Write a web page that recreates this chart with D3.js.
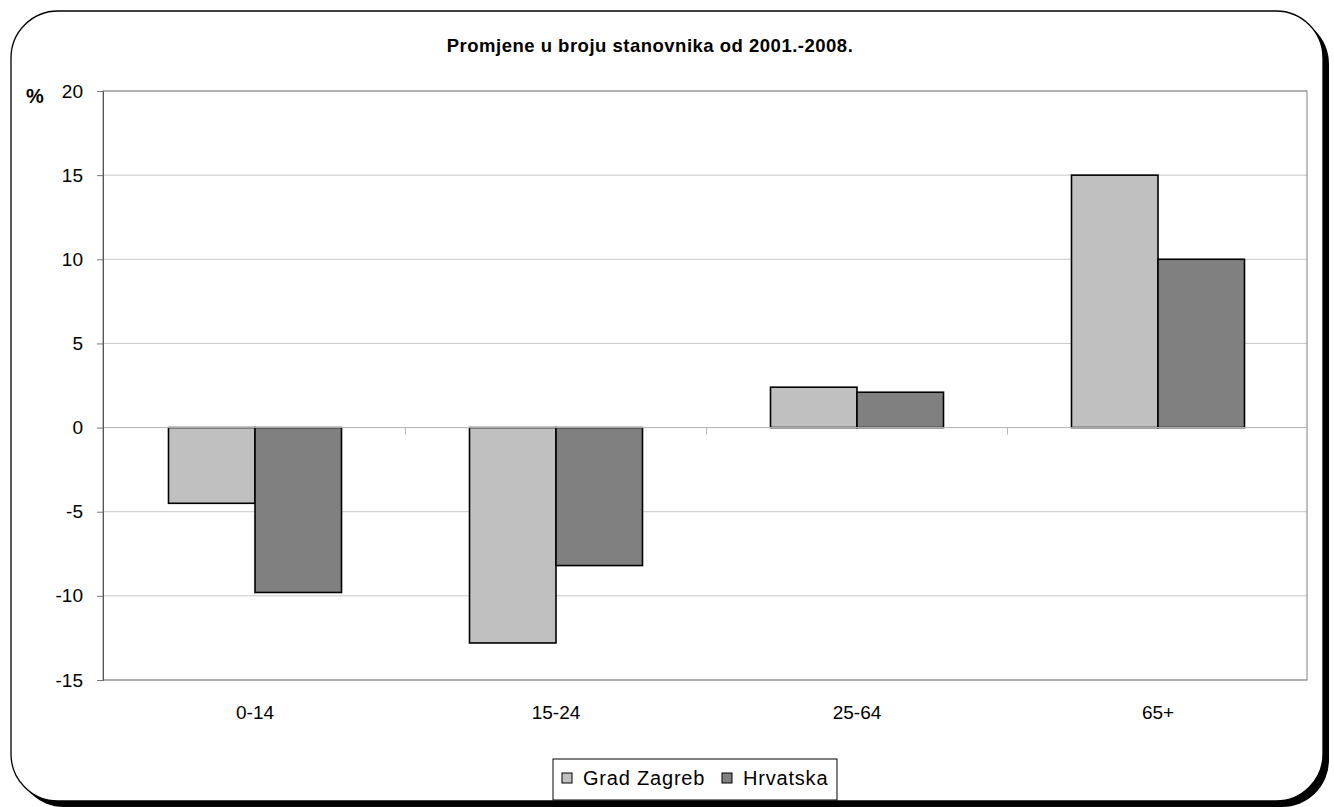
<!DOCTYPE html>
<html><head><meta charset="utf-8">
<script src="https://cdn.jsdelivr.net/npm/d3@7"></script>
<style>body{margin:0;background:#fff}svg{display:block}text{font-family:"Liberation Sans",Arial,sans-serif}</style>
</head><body>
<svg id="c" width="1334" height="807"></svg>
<script>
const categories = ["0-14", "15-24", "25-64", "65+"];
const seriesNames = ["Grad Zagreb", "Hrvatska"];
const zagreb = [-4.5, -12.8, 2.4, 15];
const hrvatska = [-9.8, -8.2, 2.1, 10];
const yTicks = [-15, -10, -5, 0, 5, 10, 15, 20];
const colors = ["#c0c0c0", "#808080"];

const svg = d3.select("#c");
// frame with shadow
svg.append("rect").attr("x", 17).attr("y", 17).attr("width", 1312).attr("height", 790)
  .attr("rx", 47).attr("ry", 47).attr("fill", "#000");
svg.append("rect").attr("x", 11).attr("y", 11).attr("width", 1312).attr("height", 790)
  .attr("rx", 47).attr("ry", 47).attr("fill", "#fff").attr("stroke", "#000").attr("stroke-width", 1.3);

const L = 103, R = 1307, T = 91, B = 680;
const y = d3.scaleLinear().domain([-15, 20]).range([B, T]);
const x0 = d3.scaleBand().domain(categories).range([L + 1.5, R + 1.5]).paddingInner(0).paddingOuter(0);
const x1 = d3.scaleBand().domain(seriesNames).range([64, x0.bandwidth() - 64]);

// gridlines
svg.append("g").selectAll("line").data(yTicks).join("line")
  .attr("x1", L).attr("x2", R).attr("y1", d => y(d)).attr("y2", d => y(d))
  .attr("stroke", "#c8c8c8").attr("stroke-width", 1);
// plot border
svg.append("rect").attr("x", L).attr("y", T).attr("width", R - L).attr("height", B - T)
  .attr("fill", "none").attr("stroke", "#808080").attr("stroke-width", 1);

// bars
const data = categories.map((c, i) => ({c, vals: [zagreb[i], hrvatska[i]]}));
const g = svg.append("g");
data.forEach(d => {
  d.vals.forEach((v, j) => {
    g.append("rect")
      .attr("x", x0(d.c) + x1(seriesNames[j]))
      .attr("width", x1.bandwidth())
      .attr("y", y(Math.max(0, v)))
      .attr("height", Math.abs(y(v) - y(0)))
      .attr("fill", colors[j]).attr("stroke", "#000").attr("stroke-width", 1.6);
  });
});

// zero axis
svg.append("line").attr("x1", L).attr("x2", R).attr("y1", y(0)).attr("y2", y(0))
  .attr("stroke", "#b8b8b8").attr("stroke-width", 1);
// category ticks
svg.append("g").selectAll("line").data(categories.slice(1)).join("line")
  .attr("x1", d => x0(d)).attr("x2", d => x0(d)).attr("y1", y(0)).attr("y2", y(0) + 7)
  .attr("stroke", "#b8b8b8");

// y axis
const yAxis = d3.axisLeft(y).tickValues(yTicks).tickSize(6).tickPadding(14).tickFormat(d => String(d));
const ya = svg.append("g").attr("transform", `translate(${L},0)`).call(yAxis);
ya.select(".domain").attr("stroke", "#555");
ya.selectAll(".tick line").attr("stroke", "#777");
ya.selectAll("text").attr("font-size", 19).attr("fill", "#000")
  .attr("font-family", '"Liberation Sans",Arial,sans-serif');

// x labels
svg.append("g").selectAll("text").data(categories).join("text")
  .attr("x", d => x0(d) + x0.bandwidth() / 2).attr("y", 719)
  .attr("text-anchor", "middle").attr("font-size", 19).text(d => d);

// title
svg.append("text").attr("x", 650).attr("y", 52).attr("text-anchor", "middle")
  .attr("font-size", 18.5).attr("font-weight", "bold").attr("letter-spacing", 0.5)
  .text("Promjene u broju stanovnika od 2001.-2008.");
svg.append("text").attr("x", 26).attr("y", 103).attr("font-size", 20).attr("font-weight", "bold").text("%");

// legend
svg.append("rect").attr("x", 553).attr("y", 759).attr("width", 284).attr("height", 41)
  .attr("fill", "#fff").attr("stroke", "#000").attr("stroke-width", 1);
const lx = [562, 722];
seriesNames.forEach((s, j) => {
  svg.append("rect").attr("x", lx[j]).attr("y", 773).attr("width", 10).attr("height", 10)
    .attr("fill", colors[j]).attr("stroke", "#000").attr("stroke-width", 1);
  svg.append("text").attr("x", lx[j] + 21).attr("y", 785).attr("font-size", 20)
    .attr("letter-spacing", 0.8).text(s);
});
</script>
</body></html>
